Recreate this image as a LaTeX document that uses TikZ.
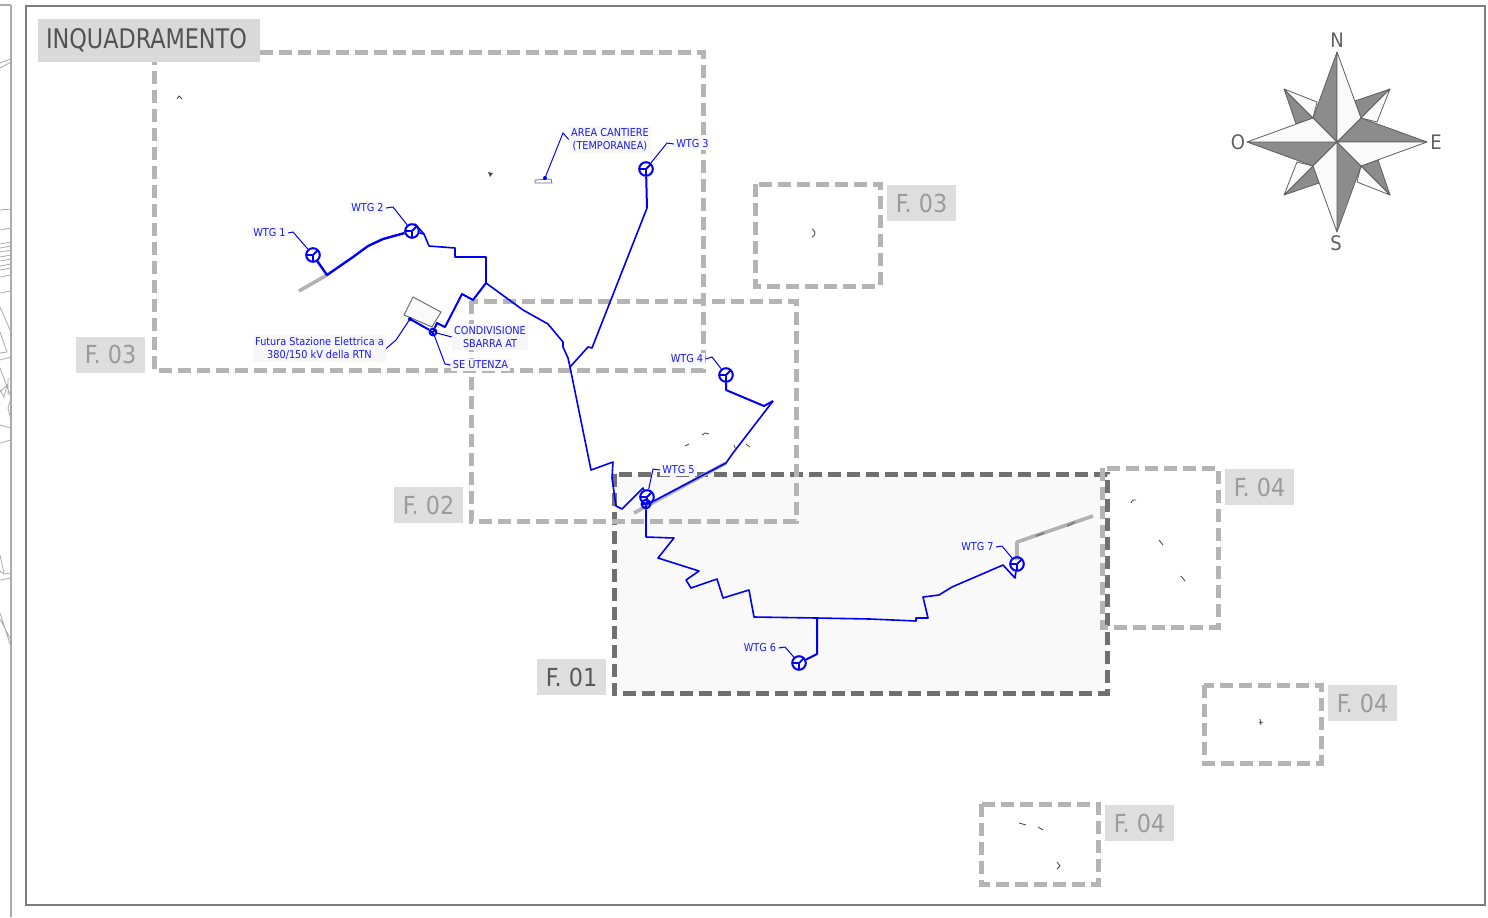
\documentclass[tikz,border=0pt]{standalone}
\usepackage{fontspec}
\setmainfont{DejaVu Sans Condensed}
\newfontfamily\titlefont[FakeStretch=0.92]{DejaVu Sans Condensed}
\definecolor{wire}{RGB}{0,0,245}
\definecolor{wiretext}{RGB}{25,25,245}
\definecolor{frameline}{RGB}{125,125,125}
\definecolor{stripline}{RGB}{170,170,170}
\definecolor{sheetgrey}{RGB}{180,180,180}
\definecolor{sheetdark}{RGB}{112,112,112}
\definecolor{tagfill}{RGB}{222,222,222}
\definecolor{tagtext}{RGB}{155,155,155}
\definecolor{roadgrey}{RGB}{178,178,178}
\definecolor{rosegrey}{RGB}{140,140,140}
\definecolor{roseline}{RGB}{95,95,95}
\tikzset{
  x=0.5pt,y=-0.5pt,
  sheet/.style={draw=sheetgrey,line width=2.5pt,dash pattern=on 6.5pt off 3pt},
  sheetmain/.style={draw=sheetdark,fill=black!2.5,line width=2.5pt,dash pattern=on 6.5pt off 3pt},
  tag/.style={fill=tagfill,text=tagtext,inner sep=0pt,minimum width=34.5pt,minimum height=18pt,font=\fontsize{12.4}{14}\selectfont},
  cable/.style={draw=wire,line width=1pt,line join=round},
  road/.style={draw=roadgrey,line width=1.8pt,line join=round},
  leader/.style={draw=wire,line width=0.5pt},
  lab/.style={text=wiretext,fill=black!3,inner sep=1pt,align=center,font=\fontsize{5.4}{6.6}\selectfont},
  turbine/.style={circle,draw=wire,line width=1pt,minimum size=6.8pt,inner sep=0pt,
    path picture={\draw[wire,line width=0.9pt] (path picture bounding box.center) -- (path picture bounding box.north east)
      (path picture bounding box.center) -- (path picture bounding box.west)
      (path picture bounding box.center) -- (path picture bounding box.south);}},
  rosedark/.style={fill=rosegrey,draw=roseline,line width=0.4pt,line join=round},
  roselight/.style={fill=black!2,draw=roseline,line width=0.4pt,line join=round},
  roseletter/.style={text=roseline,inner sep=0pt,font=\fontsize{10}{12}\selectfont},
  speck/.style={draw=black!75,line width=0.4pt}
}
\begin{document}
\begin{tikzpicture}
\useasboundingbox (0,0) rectangle (1488,917);
\draw[stripline,line width=0.4pt] (0,63) -- (11,59) (0,68) -- (11,62) (0,210) -- (11,209) (0,230) -- (11,228)
  (0,244) -- (11,242) (0,248) -- (11,246) (0,252) -- (11,250) (0,257) -- (11,255) (0,261) -- (11,259) (0,266) -- (11,264) (0,270) -- (11,268) (0,277) -- (11,275)
  (0,293) -- (11,291) (0,307) -- (11,332) (0,332) -- (7,352) -- (0,353) (0,360) -- (11,357) (0,368) -- (11,397)
  (8,379) -- (11,379) (8,379) -- (8,395) (0,392) -- (7,385) -- (4,397) -- (0,390) (11,398) -- (8,408) -- (11,420)
  (0,425) -- (11,428) (0,443) -- (11,440) (0,555) -- (4,573) (0,571) -- (4,574) -- (11,573) (0,580) -- (11,578)
  (0,613) -- (11,647) (0,619) -- (11,640);
\draw[stripline,line width=1pt] (0,5) -- (11,5) (11,5) -- (11,917);
\draw[frameline,line width=0.6pt] (26,6) rectangle (1485,905);
\draw[sheetmain] (614,474) rectangle (1107,693);
\draw[sheet] (154,52) rectangle (703,370);
\draw[sheet] (471,301) rectangle (796,521);
\draw[sheet] (755,184) rectangle (880,286);
\draw[sheet] (1102,468) rectangle (1218,627);
\draw[sheet] (1204,685) rectangle (1321,763);
\draw[sheet] (981,804) rectangle (1098,884);
\node[fill=black!15,text=black!68,inner sep=0pt,minimum width=111pt,minimum height=21.5pt,font=\titlefont\fontsize{13.5}{16}\selectfont] (t0) at (149,40.5) {INQUADRAMENTO\kern2.5pt};
\node[tag] (t1) at (110.5,354.5) {F. 03};
\node[tag] (t2) at (428.5,505) {F. 02};
\node[tag,text=black!65] (t3) at (571.5,677) {F. 01};
\node[tag] (t4) at (921.5,203) {F. 03};
\node[tag] (t5) at (1259.5,487) {F. 04};
\node[tag] (t6) at (1362.5,703) {F. 04};
\node[tag] (t7) at (1139.5,823) {F. 04};
\draw[road] (299,291) -- (327,275);
\draw[road] (634,513) -- (726,463);
\draw[road] (1017,560) -- (1017,542) -- (1093,516);
\draw[black!50,line width=1pt] (1036,536) -- (1044,533) (1067,526) -- (1075,522);
\draw[fill=black!2,draw=sheetdark,line width=0.5pt] (413,297) -- (441,312) -- (432,327) -- (404,315) -- cycle;
\draw[fill=white,draw=sheetdark,line width=0.4pt] (535,180) -- (551,179) -- (552,183) -- (535,183) -- cycle;
\node[turbine] (v1) at (313,255) {};
\node[turbine] (v2) at (412,231) {};
\node[turbine] (v3) at (646,169) {};
\node[turbine] (v4) at (726,375) {};
\node[turbine] (v5) at (647,497) {};
\node[turbine] (v6) at (799,663) {};
\node[turbine] (v7) at (1017,564) {};
\node[turbine,minimum size=4.4pt] (v8) at (646,504) {};
\node[turbine,minimum size=3.4pt] (v9) at (433,332) {};
\node[lab] (l1) at (269.5,233) {WTG 1};
\node[lab] (l2) at (367.5,208) {WTG 2};
\node[lab] (l3) at (692.5,144) {WTG 3};
\node[lab] (l4) at (687,359) {WTG 4};
\node[lab] (l5) at (678.5,470) {WTG 5};
\node[lab] (l6) at (760,648) {WTG 6};
\node[lab] (l7) at (977.5,547) {WTG 7};
\node[lab] (l8) at (610,139.5) {AREA CANTIERE\\(TEMPORANEA)};
\node[lab] (l9) at (319.5,348.5) {Futura Stazione Elettrica a\\380/150 kV della RTN};
\node[lab] (l10) at (490,337) {CONDIVISIONE\\SBARRA AT};
\node[lab] (l11) at (480.5,365) {SE UTENZA};
\coordinate (a1) at (293,232);
\coordinate (a2) at (393,207);
\coordinate (a3) at (667,143);
\coordinate (a4) at (712,357);
\coordinate (a5) at (653,469);
\coordinate (a6) at (785,647);
\coordinate (a7) at (1002,546);
\coordinate (a8) at (563,133);
\coordinate (a9) at (396,340);
\coordinate (a11) at (445,364);
\coordinate (s1) at (545,178);
\coordinate (s2) at (410,319);
\draw[leader] (l1.east) -- (a1) -- (v1);
\draw[leader] (l2.east) -- (a2) -- (v2);
\draw[leader] (l3.west) -- (a3) -- (v3);
\draw[leader] (l4.east) -- (a4) -- (v4);
\draw[leader] (l5.west) -- (a5) -- (v5);
\draw[leader] (l6.east) -- (a6) -- (v6);
\draw[leader] (l7.east) -- (a7) -- (v7);
\draw[leader] (l8.west) -- (a8) -- (s1);
\draw[leader] (l9.east) -- (a9) -- (s2);
\draw[leader] (l10.west) -- (v9);
\draw[leader] (l11.west) -- (a11) -- (v9);
\fill[wire] (s1) circle (1pt);
\fill[wire] (s2) circle (1pt);
\draw[cable] (s2) -- (v9);
\draw[cable,line width=1.2pt] (v1) -- (327,275) -- (353,257) -- (368,246) -- (383,239) -- (v2);
\draw[cable,line width=0.8pt] (v2) -- (415,224) -- (424,234) -- (429,246) -- (455,248) -- (455,257) -- (486,257) -- (486,283);
\draw[cable,line width=0.8pt] (v2) -- (424,234);
\draw[cable] (486,283) -- (473,300) -- (462,294) -- (445,327) -- (437,323) -- (v9);
\draw[cable,line width=0.8pt] (486,283) -- (523,310) -- (548,324) -- (563,342) -- (563,347) -- (568,358) -- (570,367) -- (591,470) -- (613,462) -- (612,478) -- (616,506) -- (622,509) -- (643,488) -- (v5);
\draw[cable] (v3) -- (647,208);
\draw[cable,line width=0.8pt] (647,208) -- (592,348) -- (588,347) -- (570,367);
\draw[cable] (v4) -- (726,390) -- (764,406) -- (773,401);
\draw[cable,line width=0.8pt] (773,401) -- (733,453) -- (726,463) -- (650,503);
\draw[cable,line width=0.8pt] (v8) -- (646,537) -- (674,538) -- (658,558) -- (699,571) -- (686,580) -- (691,588) -- (717,579) -- (723,598) -- (749,590) -- (754,617) -- (817,618) -- (870,619) -- (916,621) -- (916,618) -- (928,618) -- (923,597) -- (939,595) -- (952,587) -- (1003,565) -- (1015,578) -- (v7);
\draw[cable] (817,618) -- (817,654) -- (v6);
\draw[speck] (177,99) -- (179,96) -- (182,99);
\fill[black!70] (488,172) -- (493,173) -- (490,177) -- cycle;
\draw[speck] (812,229) .. controls (816,231) and (816,235) .. (812,237);
\draw[speck] (702,435) -- (705,433) -- (709,434);
\draw[speck] (685,446) -- (689,444);
\draw[speck] (734,445) -- (736,450) (746,444) -- (750,447);
\draw[speck] (1131,503) .. controls (1132,500) .. (1136,500);
\draw[speck] (1159,540) -- (1163,545);
\draw[speck] (1181,576) -- (1185,581);
\draw[speck] (1260,719) -- (1261,725) (1259,723) -- (1263,722);
\draw[speck] (1019,823) -- (1026,825);
\draw[speck] (1038,827) -- (1043,830);
\draw[speck] (1057,862) -- (1060,866) -- (1057,869);
\draw[rosedark] (1390,89) -- (1355,101) -- (1361,118) -- cycle;
\draw[roselight] (1390,89) -- (1377,122) -- (1361,118) -- cycle;
\draw[rosedark] (1390,195) -- (1378,160) -- (1361,166) -- cycle;
\draw[roselight] (1390,195) -- (1357,182) -- (1361,166) -- cycle;
\draw[rosedark] (1284,195) -- (1319,183) -- (1313,166) -- cycle;
\draw[roselight] (1284,195) -- (1297,162) -- (1313,166) -- cycle;
\draw[rosedark] (1284,89) -- (1296,124) -- (1313,118) -- cycle;
\draw[roselight] (1284,89) -- (1317,102) -- (1313,118) -- cycle;
\draw[rosedark] (1337,142) -- (1337,52) -- (1313,118) -- cycle;
\draw[rosedark] (1337,142) -- (1427,142) -- (1361,118) -- cycle;
\draw[rosedark] (1337,142) -- (1337,232) -- (1361,166) -- cycle;
\draw[rosedark] (1337,142) -- (1247,142) -- (1313,166) -- cycle;
\draw[roselight] (1337,142) -- (1337,52) -- (1361,118) -- cycle;
\draw[roselight] (1337,142) -- (1427,142) -- (1361,166) -- cycle;
\draw[roselight] (1337,142) -- (1337,232) -- (1313,166) -- cycle;
\draw[roselight] (1337,142) -- (1247,142) -- (1313,118) -- cycle;
\node[roseletter] (n1) at (1337,40) {N};
\node[roseletter] (n2) at (1436,142) {E};
\node[roseletter] (n3) at (1336,243) {S};
\node[roseletter] (n4) at (1238,142) {O};
\end{tikzpicture}
\end{document}
